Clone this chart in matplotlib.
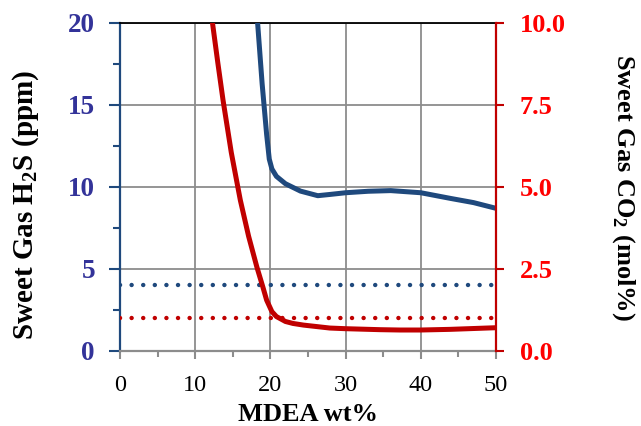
import matplotlib
matplotlib.use("Agg")
import matplotlib.pyplot as plt
from matplotlib.ticker import MultipleLocator, FormatStrFormatter

plt.rcParams['font.family'] = ['Liberation Serif', 'DejaVu Serif']
plt.rcParams['mathtext.fontset'] = 'custom'
plt.rcParams['mathtext.rm'] = 'Liberation Serif:bold'
plt.rcParams['mathtext.bf'] = 'Liberation Serif:bold'

# Sweet gas H2S (ppm) vs MDEA wt%
h2s_x = [18.1, 18.3, 18.9, 19.5, 19.85, 20.2, 20.8, 22.0, 24.0, 26.3, 28.0, 30.0, 33.0, 36.0, 40.0, 44.0, 47.0, 50.0]
h2s_y = [21.2, 20.0, 16.3, 13.2, 11.7, 11.1, 10.65, 10.2, 9.75, 9.47, 9.55, 9.65, 9.74, 9.78, 9.65, 9.3, 9.05, 8.7]

# Sweet gas CO2 (mol%) vs MDEA wt%
co2_x = [12.0, 12.3, 13.0, 13.7, 14.8, 16.0, 17.1, 18.2, 19.0, 19.5, 20.2, 20.8, 22.0, 23.0, 24.4, 27.9, 30.0, 34.6, 37.2, 40.0, 43.9, 50.0]
co2_y = [10.6, 10.0, 8.8, 7.65, 6.05, 4.6, 3.5, 2.56, 1.95, 1.55, 1.2, 1.05, 0.9, 0.84, 0.79, 0.70, 0.68, 0.65, 0.64, 0.64, 0.66, 0.71]

# Specification limits
spec_x = [0, 50]
h2s_spec = 4.0
co2_spec = 1.0

x_ticks = [0, 10, 20, 30, 40, 50]
h2s_ticks = [0, 5, 10, 15, 20]
co2_ticks = [0.0, 2.5, 5.0, 7.5, 10.0]

BLUE = '#1F497D'
RED = '#C00000'
LBLUE = '#333399'
LRED = '#FF0000'
GRID = '#8C8C8C'

fig = plt.figure(figsize=(6.41, 4.26), dpi=100)
ax1 = fig.add_axes([120/641, 1-351/426, (496-120)/641, (351-23)/426])
ax2 = ax1.twinx()

ax1.set_xlim(0, 50)
ax1.set_ylim(0, 20)
ax2.set_ylim(0, 10)

ax1.set_xticks(x_ticks)
ax1.xaxis.set_minor_locator(MultipleLocator(5))
ax1.set_yticks(h2s_ticks)
ax1.yaxis.set_minor_locator(MultipleLocator(2.5))
ax2.set_yticks(co2_ticks)
ax2.yaxis.set_major_formatter(FormatStrFormatter('%.1f'))

ax1.grid(True, which='major', color=GRID, lw=1.3)
ax1.set_axisbelow(True)

ax1.plot(h2s_x, h2s_y, color=BLUE, lw=3.6, solid_joinstyle='round', solid_capstyle='butt', zorder=3)
ax1.plot(spec_x, [h2s_spec, h2s_spec], color=BLUE, lw=3.2, linestyle=(0, (0.01, 2.6)),
         dash_capstyle='round', zorder=3)
ax2.plot(co2_x, co2_y, color=RED, lw=3.6, solid_joinstyle='round', solid_capstyle='butt', zorder=3)
ax2.plot(spec_x, [co2_spec, co2_spec], color=RED, lw=3.2, linestyle=(0, (0.01, 2.6)),
         dash_capstyle='round', zorder=3)

# spines
ax1.spines['left'].set_color(BLUE)
ax1.spines['left'].set_linewidth(1.6)
ax1.spines['bottom'].set_color(GRID)
ax1.spines['bottom'].set_linewidth(1.6)
ax1.spines['top'].set_color('black')
ax1.spines['top'].set_linewidth(1.3)
ax1.spines['right'].set_visible(False)
ax2.spines['left'].set_visible(False)
ax2.spines['bottom'].set_visible(False)
ax2.spines['top'].set_visible(False)
ax2.spines['right'].set_color(RED)
ax2.spines['right'].set_linewidth(1.6)

ax1.tick_params(axis='x', which='major', direction='out', length=6, width=1.5, color=GRID,
                labelsize=17.5, labelcolor='black', pad=11)
ax1.tick_params(axis='x', which='minor', direction='out', length=4, width=1.5, color=GRID)
ax1.tick_params(axis='y', which='major', direction='out', length=8, width=1.5, color=BLUE,
                labelsize=19.5, labelcolor=LBLUE, pad=10)
ax1.tick_params(axis='y', which='minor', direction='out', length=5, width=1.5, color=BLUE)
ax2.tick_params(axis='y', which='major', direction='out', length=6, width=1.5, color=RED,
                labelsize=19, labelcolor=LRED, pad=11)
for lab in ax1.get_yticklabels() + ax2.get_yticklabels():
    lab.set_fontweight('bold')

ax1.set_xlabel('MDEA wt%', fontsize=19, fontweight='bold', labelpad=5)
ax1.set_ylabel('Sweet Gas H$_2$S (ppm)', fontsize=21, fontweight='bold')
ax1.yaxis.set_label_coords(-0.211, 0.445)
ax2.set_ylabel('Sweet Gas CO$_2$ (mol%)', fontsize=19, fontweight='bold', rotation=270)
ax2.yaxis.set_label_coords(1.375, 0.5)

fig.savefig('out.png', dpi=100)
